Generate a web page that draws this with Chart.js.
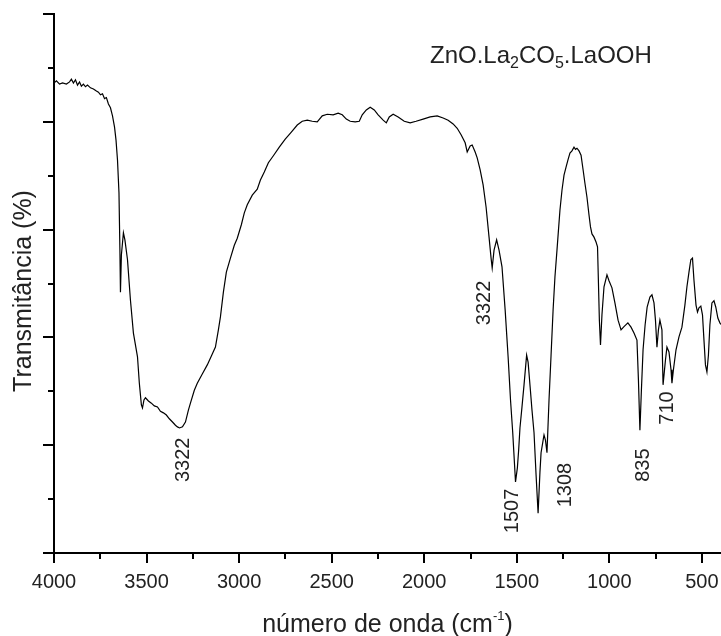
<!DOCTYPE html>
<html lang="pt">
<head>
<meta charset="utf-8">
<title>Espectro FTIR - ZnO.La2CO5.LaOOH</title>
<script src="https://cdn.jsdelivr.net/npm/chart.js@4.4.0/dist/chart.umd.min.js"></script>
<style>
  html, body { margin: 0; padding: 0; background: #fff; }
  #wrap { width: 721px; height: 636px; }
</style>
</head>
<body>
<div id="wrap"><canvas id="ftirChart" width="721" height="636"></canvas></div>
<script>
// --- DATA ---
const waveNumbers = [
    4000, 3987, 3970, 3954, 3933, 3916, 3906, 3895, 3884, 3873, 3862, 3852, 3841, 3830, 3819, 3803,
    3787, 3771, 3760, 3749, 3738, 3727, 3717, 3706, 3695, 3684, 3673, 3665, 3657, 3649, 3644, 3641,
    3636, 3625, 3617, 3603, 3587, 3571, 3549, 3539, 3528, 3522, 3514, 3506, 3490, 3474, 3458, 3441,
    3425, 3409, 3393, 3377, 3360, 3344, 3333, 3322, 3306, 3290, 3274, 3263, 3242, 3226, 3199, 3172,
    3145, 3128, 3112, 3101, 3085, 3069, 3047, 3026, 3010, 2988, 2972, 2956, 2929, 2902, 2885, 2864,
    2842, 2815, 2783, 2751, 2718, 2686, 2659, 2632, 2605, 2578, 2551, 2524, 2492, 2465, 2443, 2421,
    2400, 2373, 2351, 2335, 2313, 2292, 2270, 2249, 2222, 2205, 2189, 2168, 2141, 2108, 2076, 2044,
    2006, 1968, 1930, 1898, 1871, 1844, 1822, 1801, 1779, 1768, 1752, 1741, 1725, 1714, 1698, 1682,
    1666, 1650, 1639, 1633, 1623, 1609, 1596, 1580, 1563, 1547, 1534, 1522, 1507, 1497, 1490, 1483,
    1472, 1461, 1447, 1439, 1428, 1418, 1407, 1396, 1385, 1375, 1369, 1358, 1353, 1345, 1337, 1326,
    1315, 1304, 1294, 1283, 1275, 1267, 1256, 1245, 1234, 1224, 1213, 1202, 1191, 1183, 1175, 1164,
    1153, 1142, 1132, 1121, 1110, 1102, 1094, 1083, 1072, 1064, 1059, 1054, 1048, 1040, 1029, 1013,
    1002, 986, 970, 953, 937, 921, 900, 883, 867, 851, 843, 835, 827, 818, 807, 796,
    781, 770, 759, 751, 743, 735, 727, 716, 713, 710, 697, 689, 678, 667, 662, 654,
    640, 624, 608, 592, 581, 570, 560, 551, 543, 532, 524, 516, 506, 497, 489, 481,
    473, 465, 457, 446, 435, 425, 414, 403, 397
];
const transmittance = [
    87.2, 87.6, 87.0, 87.2, 87.0, 87.4, 87.9, 87.2, 87.8, 86.8, 87.4, 86.6, 87.0, 86.5, 86.8, 86.3,
    86.1, 85.7, 85.5, 85.0, 85.2, 84.3, 84.5, 83.3, 82.6, 81.1, 79.0, 76.6, 72.9, 66.8, 56.2, 48.4,
    55.3, 59.4, 58.1, 54.4, 46.9, 40.8, 36.4, 31.5, 27.5, 26.9, 28.4, 28.8, 28.2, 27.8, 27.3, 27.1,
    26.3, 26.0, 25.6, 24.9, 24.3, 23.7, 23.4, 23.2, 23.4, 24.3, 26.5, 27.8, 30.2, 31.5, 33.2, 34.9,
    36.9, 38.2, 41.4, 43.8, 48.4, 52.1, 54.7, 57.1, 58.4, 60.9, 63.1, 64.6, 66.4, 67.5, 69.2, 70.7,
    72.4, 73.7, 75.3, 76.8, 78.1, 79.4, 80.1, 80.3, 80.1, 80.0, 81.1, 81.4, 81.3, 81.6, 81.3, 80.5,
    80.1, 80.0, 80.1, 81.3, 82.2, 82.7, 82.2, 81.3, 80.3, 79.8, 80.9, 81.4, 80.9, 80.1, 79.8, 80.1,
    80.5, 80.9, 81.1, 80.7, 80.3, 79.6, 78.8, 77.6, 76.1, 74.4, 75.5, 75.7, 74.4, 73.3, 71.1, 68.3,
    64.2, 58.6, 54.7, 52.9, 56.2, 58.1, 56.2, 53.1, 45.1, 36.4, 28.4, 22.3, 13.2, 15.8, 19.1, 23.2,
    27.1, 31.2, 36.7, 35.4, 30.8, 26.5, 22.3, 14.5, 7.4, 15.0, 18.6, 20.9, 21.9, 20.9, 18.6, 28.4,
    36.7, 45.1, 51.2, 56.2, 59.9, 63.6, 67.3, 70.1, 71.6, 72.9, 74.2, 74.6, 75.3, 74.9, 75.1, 74.6,
    73.8, 71.1, 68.6, 66.0, 62.7, 60.5, 59.2, 58.6, 57.7, 56.8, 50.1, 43.2, 38.6, 44.2, 49.4, 51.6,
    50.5, 49.2, 46.4, 43.2, 41.4, 42.0, 42.7, 41.9, 40.8, 39.5, 32.1, 22.8, 30.2, 37.7, 42.3, 45.6,
    47.5, 47.9, 46.4, 43.2, 38.2, 41.4, 43.2, 41.4, 35.8, 31.2, 35.8, 38.2, 37.3, 34.0, 31.5, 34.0,
    37.7, 40.1, 41.9, 46.0, 49.4, 52.1, 54.4, 54.7, 50.6, 46.0, 44.7, 45.5, 45.8, 44.2, 39.5, 34.9,
    33.6, 36.7, 42.3, 46.4, 46.8, 45.6, 43.6, 42.7, 42.4
];
const xTickValues = [4000, 3500, 3000, 2500, 2000, 1500, 1000, 500];

// band labels (text, anchor wavenumber, anchor transmittance)
const peakTexts = ['3322', '3322', '1507', '1308', '835', '710'];
const peakWave = [3298, 1677, 1523, 1239, 816, 684];
const peakTrans = [17.3, 46.4, 7.8, 12.6, 16.3, 26.9];

// --- STYLE ---
const FONT = '"Liberation Sans", Arial, sans-serif';
const TEXT_COLOR = '#222';

// --- PLUGIN: tick marks, titles, band labels ---
const spectrumDecor = {
    id: 'spectrumDecor',
    afterDraw(chart) {
        const { ctx, chartArea, scales: { x, y } } = chart;
        ctx.save();

        // tick marks (major + minor), pointing outwards
        ctx.strokeStyle = '#000';
        ctx.lineWidth = 2;
        for (let v = 0; v <= 100; v += 10) {
            const py = Math.round(y.getPixelForValue(v));
            const len = v % 20 === 0 ? 11 : 6;
            ctx.beginPath();
            ctx.moveTo(chartArea.left, py);
            ctx.lineTo(chartArea.left - len, py);
            ctx.stroke();
        }
        for (let v = 500; v <= 4000; v += 250) {
            const px = Math.round(x.getPixelForValue(v));
            const len = v % 500 === 0 ? 10 : 6;
            ctx.beginPath();
            ctx.moveTo(px, chartArea.bottom);
            ctx.lineTo(px, chartArea.bottom + len);
            ctx.stroke();
        }

        ctx.fillStyle = TEXT_COLOR;

        // y title
        ctx.save();
        ctx.translate(24, 291);
        ctx.rotate(-Math.PI / 2);
        ctx.font = `25px ${FONT}`;
        ctx.textAlign = 'center';
        ctx.textBaseline = 'middle';
        ctx.fillText('Transmitância (%)', 0, 0);
        ctx.restore();

        // x title with superscript
        const main = 'número de onda (cm';
        const sup = '-1';
        ctx.textBaseline = 'alphabetic';
        ctx.textAlign = 'left';
        ctx.font = `25px ${FONT}`;
        const wMain = ctx.measureText(main).width;
        const wClose = ctx.measureText(')').width;
        ctx.font = `13px ${FONT}`;
        const wSup = ctx.measureText(sup).width;
        let tx = (chartArea.left + chartArea.right) / 2 - (wMain + wSup + wClose) / 2;
        const ty = 632;
        ctx.font = `25px ${FONT}`;
        ctx.fillText(main, tx, ty);
        tx += wMain;
        ctx.font = `13px ${FONT}`;
        ctx.fillText(sup, tx, ty - 12);
        tx += wSup;
        ctx.font = `25px ${FONT}`;
        ctx.fillText(')', tx, ty);

        // sample formula with subscripts
        const parts = [['ZnO.La', false], ['2', true], ['CO', false], ['5', true], ['.LaOOH', false]];
        let fx = 430;
        const fy = 63;
        parts.forEach(([txt, isSub]) => {
            ctx.font = isSub ? `16px ${FONT}` : `24px ${FONT}`;
            ctx.fillText(txt, fx, isSub ? fy + 5 : fy);
            fx += ctx.measureText(txt).width;
        });

        // band labels, rotated
        ctx.font = `20px ${FONT}`;
        ctx.textAlign = 'center';
        ctx.textBaseline = 'middle';
        peakTexts.forEach((txt, i) => {
            ctx.save();
            ctx.translate(x.getPixelForValue(peakWave[i]), y.getPixelForValue(peakTrans[i]));
            ctx.rotate(-Math.PI / 2);
            ctx.fillText(txt, 0, 0);
            ctx.restore();
        });

        ctx.restore();
    }
};

// --- CHART ---
const points = waveNumbers.map((w, i) => ({ x: w, y: transmittance[i] }));

new Chart(document.getElementById('ftirChart'), {
    type: 'line',
    data: {
        datasets: [{
            data: points,
            borderColor: '#000',
            borderWidth: 1.2,
            pointRadius: 0,
            tension: 0,
            fill: false
        }]
    },
    options: {
        responsive: false,
        animation: false,
        devicePixelRatio: 1,
        layout: { padding: { top: 14, right: 0, bottom: 0, left: 0 } },
        plugins: {
            legend: { display: false },
            tooltip: { enabled: false }
        },
        scales: {
            x: {
                type: 'linear',
                reverse: true,
                min: 397,
                max: 4000,
                afterBuildTicks: scale => { scale.ticks = xTickValues.map(v => ({ value: v })); },
                afterFit: scale => {
                    scale.height = 83;
                    // plot runs right up to the canvas edge
                    scale.paddingLeft = 0;
                    scale.paddingRight = 0;
                },
                grid: { display: false, drawTicks: false },
                border: { display: true, color: '#000', width: 2 },
                ticks: {
                    padding: 17,
                    color: TEXT_COLOR,
                    autoSkip: false,
                    maxRotation: 0,
                    font: { family: FONT, size: 20 },
                    callback: v => String(v)
                }
            },
            y: {
                min: 0,
                max: 100,
                afterFit: scale => { scale.width = 54; },
                grid: { display: false, drawTicks: false },
                border: { display: true, color: '#000', width: 2 },
                ticks: { display: false }
            }
        }
    },
    plugins: [spectrumDecor]
});
</script>
</body>
</html>
